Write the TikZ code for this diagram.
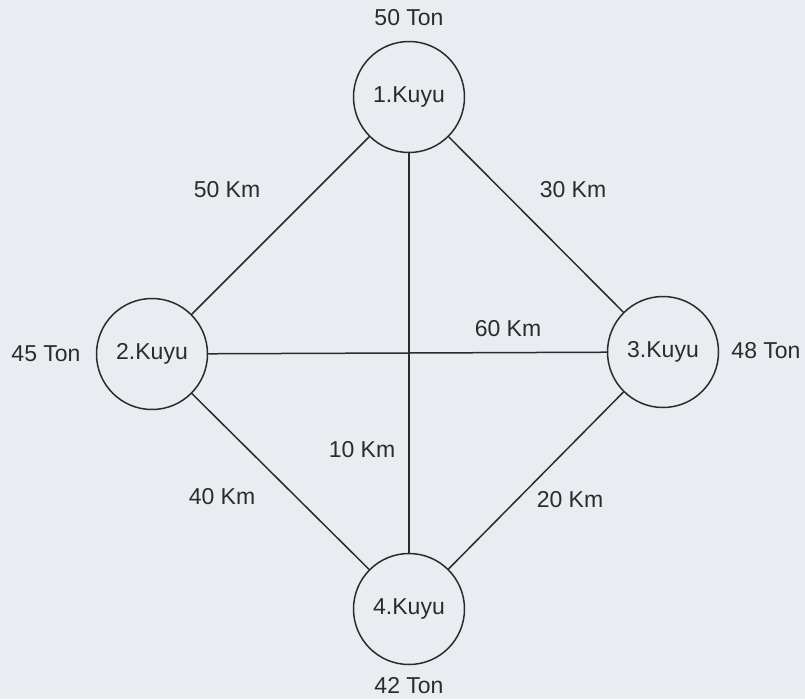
\documentclass[tikz,border=0pt]{standalone}
\usepackage{fontspec}
\setmainfont{Liberation Sans}
\definecolor{paper}{HTML}{E9EDF1}
\definecolor{ink}{HTML}{2B2B2B}
\begin{document}
\begin{tikzpicture}[x=1pt,y=-1pt,
  well/.style={circle,draw=ink,line width=1.5pt,minimum size=111pt,inner sep=0pt,fill=paper,text=ink,font=\fontsize{23}{26}\selectfont},
  lbl/.style={text=ink,font=\fontsize{23}{26}\selectfont,inner sep=0pt},
  road/.style={draw=ink,line width=1.5pt}]
  \fill[paper] (0,0) rectangle (805,699);
  \useasboundingbox (0,0) rectangle (805,699);

  % wells
  \node[well] (k1) at (409,97) {1.Kuyu};
  \node[well] (k2) at (152,354) {2.Kuyu};
  \node[well] (k3) at (663,352) {3.Kuyu};
  \node[well] (k4) at (409,609) {4.Kuyu};

  % capacities
  \node[lbl] (t1) at (409,18) {50 Ton};
  \node[lbl] (t2) at (46,354) {45 Ton};
  \node[lbl] (t3) at (766,351) {48 Ton};
  \node[lbl] (t4) at (409,686) {42 Ton};

  % roads between wells
  \draw[road] (k1) -- (k2);
  \draw[road] (k1) -- (k3);
  \draw[road] (k1) -- (k4);
  \draw[road] (k2) -- (k3);
  \draw[road] (k2) -- (k4);
  \draw[road] (k3) -- (k4);

  % distances
  \node[lbl] (d12) at (227,190) {50 Km};
  \node[lbl] (d13) at (573,190) {30 Km};
  \node[lbl] (d23) at (508,329) {60 Km};
  \node[lbl] (d14) at (362,450) {10 Km};
  \node[lbl] (d24) at (222,497) {40 Km};
  \node[lbl] (d34) at (570,500) {20 Km};
\end{tikzpicture}
\end{document}
